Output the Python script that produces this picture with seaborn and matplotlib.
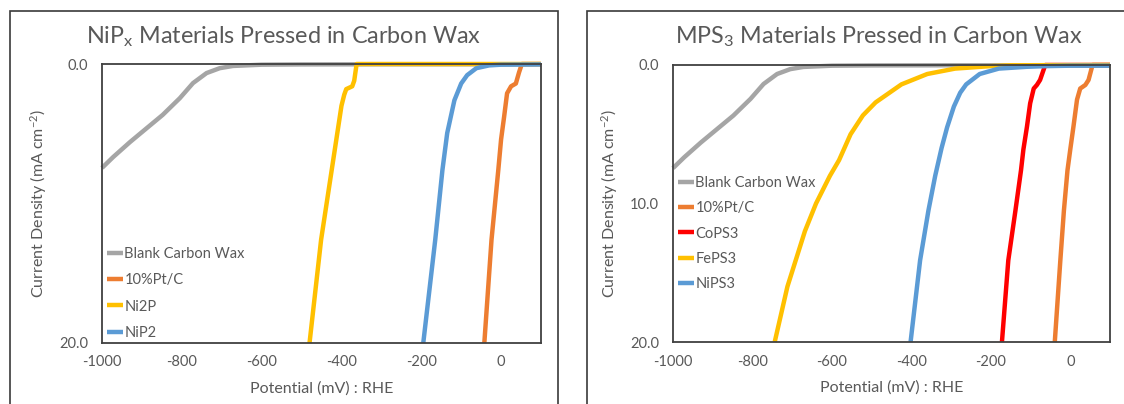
import matplotlib
matplotlib.use("Agg")
import matplotlib.pyplot as plt
from matplotlib.patches import Rectangle
from matplotlib.lines import Line2D
import seaborn as sns
import pandas as pd

# ---- data: potential (mV vs RHE) and cathodic current density (mA cm^-2) ----
blank_mv = [-1000, -972, -930, -888, -848, -805, -772, -738, -705, -672, -600, -500, -300, 0, 100]
blank_j = [7.45, 6.67, 5.6, 4.6, 3.65, 2.45, 1.37, 0.65, 0.3, 0.14, 0.05, 0.03, 0.02, 0.02, 0.02]

# NiPx panel
ptc_a_mv = [-42, -24, -7, 0, 7.5, 15, 25, 37, 45, 52, 100]
ptc_a_j = [20, 12.6, 7.6, 5.4, 3.8, 2.1, 1.6, 1.4, 0.6, 0.0, 0.0]
ni2p_mv = [-480, -451, -400, -393, -388, -373, -368, -362, 100]
ni2p_j = [20, 12.6, 3.0, 2.2, 1.8, 1.6, 1.2, 0.0, 0.0]
nip2_mv = [-195, -165, -147, -135, -117, -100, -85, -62, -30, 0, 100]
nip2_j = [20, 12.6, 7.6, 4.95, 2.6, 1.4, 0.8, 0.3, 0.1, 0.05, 0.03]

# MPS3 panel
ptc_b_mv = [-39, -25, -16, -7, 0, 8, 17, 25, 38, 46, 56, 100]
ptc_b_j = [20, 14.1, 10.5, 7.6, 6.1, 4.45, 2.5, 1.7, 1.44, 1.08, 0.0, 0.0]
cops3_mv = [-172, -156, -138, -124, -118, -109, -101, -92, -84, -76, -63, 100]
cops3_j = [20, 14.1, 10.5, 7.6, 6.1, 4.45, 2.77, 1.7, 1.44, 1.08, 0.0, 0.0]
feps3_mv = [-744, -712, -668, -640, -605, -582, -553, -522, -490, -425, -360, -290, -200, -150, 100]
feps3_j = [20, 16, 12, 10, 8, 6.87, 5, 3.64, 2.7, 1.4, 0.65, 0.26, 0.08, 0.02, 0.0]
nips3_mv = [-402, -378, -357, -340, -324, -310, -293, -277, -262, -228, -180, -110, -60, 0, 100]
nips3_j = [20, 14.1, 10.5, 8, 6, 4.5, 3.0, 2.0, 1.4, 0.65, 0.26, 0.13, 0.08, 0.05, 0.05]

left_names = ["Blank Carbon Wax", "10%Pt/C", "Ni2P", "NiP2"]
right_names = ["Blank Carbon Wax", "10%Pt/C", "CoPS3", "FePS3", "NiPS3"]
x_ticks = [-1000, -800, -600, -400, -200, 0]

colors = {
    "Blank Carbon Wax": "#A5A5A5",
    "10%Pt/C": "#ED7D31",
    "Ni2P": "#FFC000",
    "NiP2": "#5B9BD5",
    "CoPS3": "#FF0000",
    "FePS3": "#FFC000",
    "NiPS3": "#5B9BD5",
}


def frame(series):
    parts = []
    for name, mv, j in series:
        parts.append(pd.DataFrame({"Potential": mv, "Current": j, "Sample": name}))
    return pd.concat(parts, ignore_index=True)


left_df = frame([
    ("Blank Carbon Wax", blank_mv, blank_j),
    ("10%Pt/C", ptc_a_mv, ptc_a_j),
    ("Ni2P", ni2p_mv, ni2p_j),
    ("NiP2", nip2_mv, nip2_j),
])
right_df = frame([
    ("Blank Carbon Wax", blank_mv, blank_j),
    ("10%Pt/C", ptc_b_mv, ptc_b_j),
    ("CoPS3", cops3_mv, cops3_j),
    ("FePS3", feps3_mv, feps3_j),
    ("NiPS3", nips3_mv, nips3_j),
])

sns.set_theme(style="white")
plt.rcParams["font.family"] = ["Lato", "DejaVu Sans"]
plt.rcParams["mathtext.default"] = "regular"

TEXT = "#595959"
W, H = 1124, 404
fig = plt.figure(figsize=(W / 100, H / 100), dpi=100)
fig.patch.set_facecolor("white")

# chart frames around each panel
for (x0, x1) in [(10, 558), (587, 1140)]:
    fig.add_artist(Rectangle((x0 / W, -0.1), (x1 - x0) / W, 1 - 11 / H + 0.1,
                             transform=fig.transFigure, fill=False,
                             edgecolor="#3a3a3a", linewidth=1.2))

ax_l = fig.add_axes([102 / W, 1 - 343 / H, 439 / W, 279 / H])
ax_r = fig.add_axes([673 / W, 1 - 342 / H, 437 / W, 277 / H])


def draw(ax, df, names, title, title_x, yticks, legend_top, spacing):
    sns.lineplot(data=df, x="Potential", y="Current", hue="Sample", hue_order=names,
                 palette=colors, estimator=None, sort=False, linewidth=3.2,
                 legend=False, ax=ax)
    for ln in ax.get_lines():
        ln.set_solid_capstyle("butt")
        ln.set_clip_on(False)
    ax.set_xlim(-1000, 100)
    ax.set_ylim(20, 0)
    ax.set_xticks(x_ticks)
    ax.set_xticklabels([str(v) for v in x_ticks])
    ax.set_yticks(yticks)
    ax.set_yticklabels([f"{v:.1f}" for v in yticks])
    ax.tick_params(axis="both", length=0, labelsize=10.5, labelcolor=TEXT)
    ax.tick_params(axis="y", pad=10)
    ax.tick_params(axis="x", pad=9)
    for sp in ax.spines.values():
        sp.set_color("#404040")
        sp.set_linewidth(1.3)
        sp.set_visible(True)
    ax.set_xlabel("Potential (mV) : RHE", fontsize=11.5, color=TEXT)
    ax.set_ylabel("Current Density (mA cm$^{-2}$)", fontsize=11.5, color=TEXT)
    ax.xaxis.set_label_coords(0.5, -0.165)
    ax.xaxis.label.set_verticalalignment("center")
    ax.yaxis.set_label_coords(-0.145, 0.5)
    ax.yaxis.label.set_verticalalignment("center")
    handles = [Line2D([], [], color=colors[n], linewidth=3.2, solid_capstyle="butt") for n in names]
    leg = ax.legend(handles, names, loc="upper left", bbox_to_anchor=(0.011, legend_top),
                    frameon=False, fontsize=10.5, handlelength=1.1, handletextpad=0.1,
                    labelspacing=spacing, borderpad=0, borderaxespad=0)
    for t in leg.get_texts():
        t.set_color(TEXT)
    fig.text(title_x / W, 1 - 37 / H, title, ha="center", va="center",
             fontsize=16.8, color=TEXT)


draw(ax_l, left_df, left_names, "NiP$_x$ Materials Pressed in Carbon Wax", 284,
     [0, 20], 0.345, 0.85)
draw(ax_r, right_df, right_names, "MPS$_3$ Materials Pressed in Carbon Wax", 879,
     [0, 10, 20], 0.60, 0.78)

fig.savefig("out.png", dpi=100, facecolor="white")
